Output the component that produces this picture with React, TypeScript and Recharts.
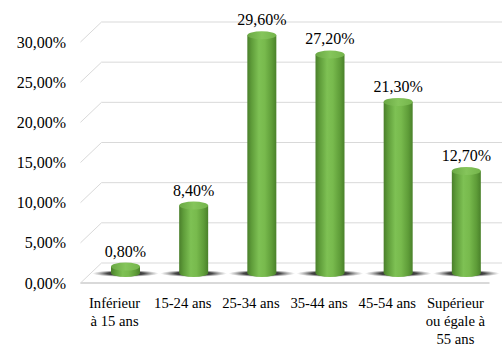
import React from "react";
import { BarChart, Bar, XAxis, YAxis, CartesianGrid, LabelList } from "recharts";

const categories = [
  "Inférieur\nà 15 ans",
  "15-24 ans",
  "25-34 ans",
  "35-44 ans",
  "45-54 ans",
  "Supérieur\nou égale à\n55 ans",
];
const values = [0.8, 8.4, 29.6, 27.2, 21.3, 12.7];
const yTicks = [0, 5, 10, 15, 20, 25, 30];

const data = categories.map((c, i) => ({ name: c, value: values[i] }));

const FONT = "Liberation Serif";
const SKEW = 10.5;
const GRID = "#d9d9d9";

const fmt = (v: number) => v.toFixed(2).replace(".", ",") + "%";

const GridLine = (props: any) => {
  const { x1, x2, y1 } = props;
  const y = y1;
  const isFloor = y > 260;
  return (
    <g key={props.key}>
      <line x1={x1 - SKEW} y1={y + 10} x2={x1 + SKEW} y2={y - 10} stroke={GRID} strokeWidth={1} />
      <line x1={x1 + SKEW} y1={y - 10} x2={x2 + SKEW + 2} y2={y - 10} stroke={GRID} strokeWidth={1} />
      {isFloor && (
        <line x1={x1 - SKEW} y1={y + 10} x2={x2 - SKEW} y2={y + 10} stroke={GRID} strokeWidth={2} />
      )}
    </g>
  );
};

const YTick = (props: any) => {
  const { y, payload } = props;
  return (
    <text x={66} y={y + 15.5} textAnchor="end" style={{ fontFamily: FONT, fontSize: 16 }} fill="#000">
      {fmt(payload.value)}
    </text>
  );
};

const XTick = (props: any) => {
  const { x, y, payload } = props;
  const lines = String(payload.value).split("\n");
  return (
    <text x={x - SKEW} y={y} textAnchor="middle" style={{ fontFamily: FONT, fontSize: 14.67 }} fill="#000">
      {lines.map((l, i) => (
        <tspan key={i} x={x - SKEW} y={y + 34.5 + i * 18}>
          {l}
        </tspan>
      ))}
    </text>
  );
};

const Cylinder = (props: any) => {
  const { x, y, width, height } = props;
  const cx = x + width / 2;
  const rx = width / 2;
  const bottom = y + height;
  const ry = 4;
  return (
    <g>
      <ellipse cx={cx} cy={bottom + 0.5} rx={width * 1.15} ry={3.5} fill="url(#shadowGrad)" />
      <rect x={x} y={y} width={width} height={height} fill="url(#bodyGrad)" />
      <ellipse cx={cx} cy={bottom} rx={rx} ry={ry} fill="url(#bodyGrad)" />
      <ellipse cx={cx} cy={y} rx={rx} ry={ry} fill="url(#topGrad)" />
    </g>
  );
};

const ValueLabel = (props: any) => {
  const { x, y, width, value } = props;
  return (
    <text x={x + width / 2} y={y - 10} textAnchor="middle" style={{ fontFamily: FONT, fontSize: 16 }} fill="#000">
      {fmt(value)}
    </text>
  );
};

export default function App() {
  return (
    <div style={{ position: "absolute", left: 0, top: 0, background: "#fff", fontFamily: FONT }}>
      <BarChart
        width={502}
        height={345}
        data={data}
        margin={{ top: 32, right: 2, bottom: 0, left: 0 }}
        barCategoryGap={0}
      >
        <defs>
          <linearGradient id="bodyGrad" x1="0" y1="0" x2="1" y2="0">
            <stop offset="0%" stopColor="#4a7f2b" />
            <stop offset="15%" stopColor="#5f9d3a" />
            <stop offset="40%" stopColor="#7ec154" />
            <stop offset="60%" stopColor="#78ba4d" />
            <stop offset="85%" stopColor="#5e9c38" />
            <stop offset="100%" stopColor="#4a812a" />
          </linearGradient>
          <linearGradient id="topGrad" x1="0" y1="0" x2="1" y2="0">
            <stop offset="0%" stopColor="#6aa844" />
            <stop offset="50%" stopColor="#85c55b" />
            <stop offset="100%" stopColor="#74b44b" />
          </linearGradient>
          <radialGradient id="shadowGrad" cx="0.5" cy="0.5" r="0.5">
            <stop offset="0%" stopColor="#0d0d0d" stopOpacity={1} />
            <stop offset="55%" stopColor="#262626" stopOpacity={0.85} />
            <stop offset="100%" stopColor="#777777" stopOpacity={0} />
          </radialGradient>
        </defs>
        <CartesianGrid horizontal={GridLine as any} vertical={false} />
        <XAxis
          dataKey="name"
          axisLine={false}
          tickLine={false}
          tickSize={0}
          tickMargin={0}
          height={72}
          interval={0}
          tick={<XTick />}
        />
        <YAxis
          domain={[0, 30]}
          ticks={yTicks}
          axisLine={false}
          tickLine={false}
          width={91}
          tick={<YTick />}
        />
        <Bar dataKey="value" barSize={29} shape={<Cylinder />} isAnimationActive={false}>
          <LabelList dataKey="value" content={<ValueLabel />} />
        </Bar>
      </BarChart>
    </div>
  );
}
